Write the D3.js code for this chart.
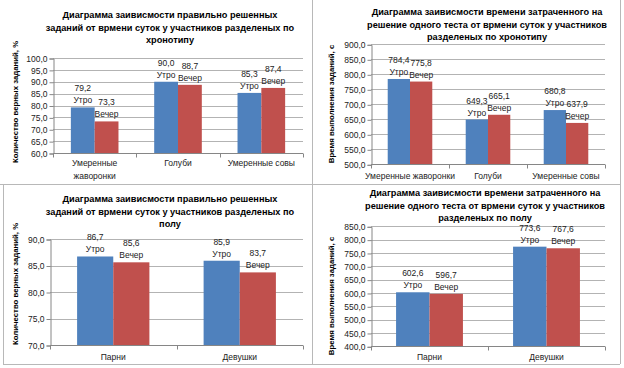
<!DOCTYPE html>
<html><head><meta charset="utf-8">
<script src="https://cdn.jsdelivr.net/npm/d3@7"></script>
<style>
html,body{margin:0;padding:0;background:#fff;}
svg{display:block;font-family:"Liberation Sans",Arial,sans-serif;}
</style></head>
<body><svg id="c" width="624" height="368"></svg>
<script>
// ---- data ----
const seriesNames = ["Утро", "Вечер"];
const chronoCategories = ["Умеренные жаворонки", "Голуби", "Умеренные совы"];
const genderCategories = ["Парни", "Девушки"];

const chronoCorrectMorning = [79.2, 90.0, 85.3];
const chronoCorrectEvening = [73.3, 88.7, 87.4];
const chronoTimeMorning = [784.4, 649.3, 680.8];
const chronoTimeEvening = [775.8, 665.1, 637.9];
const genderCorrectMorning = [86.7, 85.9];
const genderCorrectEvening = [85.6, 83.7];
const genderTimeMorning = [602.6, 773.6];
const genderTimeEvening = [596.7, 767.6];

const ticksChronoCorrect = [60, 65, 70, 75, 80, 85, 90, 95, 100];
const ticksChronoTime = [500, 550, 600, 650, 700, 750, 800, 850, 900];
const ticksGenderCorrect = [70, 75, 80, 85, 90];
const ticksGenderTime = [400, 450, 500, 550, 600, 650, 700, 750, 800, 850];

const title1 = ["Диаграмма заивисмости правильно решенных", "заданий от врмени суток у участников разделеных по", "хронотипу"];
const title2 = ["Диаграмма заивисмости времени затраченного на", "решение одного теста от врмени суток у участников", "разделеных по хронотипу"];
const title3 = ["Диаграмма заивисмости правильно решенных", "заданий от врмени суток у участников разделеных по", "полу"];
const title4 = ["Диаграмма заивисмости времени затраченного на", "решение одного теста от врмени суток у участников", "разделеных по полу"];
const yTitleCorrect = "Количество верных заданий, %";
const yTitleTime = "Время выполнения заданий, с";

// ---- drawing ----
const svg = d3.select("#c");
const colors = ["#4F81BD", "#C0504D"];
const fmt = v => d3.format(".1f")(v).replace(".", ",");

// frames
const frame = svg.append("g").attr("stroke", "#b8b8b8").attr("stroke-width", 1).attr("fill", "none");
frame.append("line").attr("x1", 0).attr("x2", 620).attr("y1", 184.5).attr("y2", 184.5);
frame.append("line").attr("x1", 312.5).attr("x2", 312.5).attr("y1", 0).attr("y2", 364);
frame.append("line").attr("x1", 620.5).attr("x2", 620.5).attr("y1", 0).attr("y2", 364);
frame.append("line").attr("x1", 3.5).attr("x2", 3.5).attr("y1", 184).attr("y2", 364);
frame.append("line").attr("x1", 3).attr("x2", 620).attr("y1", 364.5).attr("y2", 364.5);

function drawChart(o) {
  const g = svg.append("g");
  const x = d3.scaleBand().domain(o.categories).range([o.x0, o.x1]);
  const y = d3.scaleLinear().domain(d3.extent(o.ticks)).range([o.y1, o.y0]);
  const catW = x.bandwidth();
  const barW = catW / 3.5;
  const xs = d3.scaleBand().domain(seriesNames).range([0, barW * 2]);

  // gridlines
  g.append("g").selectAll("line").data(o.ticks.slice(1)).join("line")
    .attr("x1", o.x0).attr("x2", o.x1)
    .attr("y1", d => Math.round(y(d)) + 0.5).attr("y2", d => Math.round(y(d)) + 0.5)
    .attr("stroke", "#b3b3b3");

  // bars
  const series = [o.a, o.b];
  series.forEach((vals, si) => {
    g.append("g").selectAll("rect").data(vals).join("rect")
      .attr("x", (d, i) => x(o.categories[i]) + (catW - 2 * barW) / 2 + xs(seriesNames[si]))
      .attr("width", barW)
      .attr("y", d => y(d))
      .attr("height", d => y(o.ticks[0]) - y(d))
      .attr("fill", colors[si]);
  });

  // y axis
  const yAxis = d3.axisLeft(y).tickValues(o.ticks).tickSize(4).tickFormat(fmt);
  const ya = g.append("g").attr("transform", `translate(${Math.round(o.x0) + 0.5},0.5)`).call(yAxis);
  ya.select(".domain").attr("stroke", "#868686");
  ya.selectAll(".tick line").attr("stroke", "#868686");
  ya.selectAll(".tick text").attr("font-size", 8.5).attr("fill", "#222")
    .attr("font-family", "Liberation Sans, Arial, sans-serif").attr("x", -6);

  // x axis
  const xa = g.append("g").attr("transform", `translate(0,${Math.round(o.y1) + 0.5})`);
  xa.append("line").attr("x1", o.x0).attr("x2", o.x1).attr("stroke", "#868686");
  const bounds = o.categories.map(c => x(c)).concat([o.x1]);
  xa.selectAll("line.t").data(bounds).join("line").attr("class", "t")
    .attr("x1", d => Math.round(d) + 0.5).attr("x2", d => Math.round(d) + 0.5)
    .attr("y1", 0).attr("y2", 4).attr("stroke", "#868686");
  o.categories.forEach(c => {
    const lines = o.wrap && c.includes(" ") && c.length > 15 ? c.split(" ") : [c];
    lines.forEach((ln, li) => {
      g.append("text").attr("x", x(c) + catW / 2).attr("y", o.catY + li * 13)
        .attr("text-anchor", "middle").attr("dominant-baseline", "central")
        .attr("font-size", 8.5).attr("fill", "#222").text(ln);
    });
  });

  // data labels
  series.forEach((vals, si) => {
    vals.forEach((v, i) => {
      const cx = x(o.categories[i]) + (catW - 2 * barW) / 2 + xs(seriesNames[si]) + barW / 2;
      const top = y(v);
      g.append("text").attr("x", cx).attr("y", top - 19).attr("text-anchor", "middle")
        .attr("dominant-baseline", "central").attr("font-size", 8.5).attr("fill", "#222").text(fmt(v));
      g.append("text").attr("x", cx).attr("y", top - 7).attr("text-anchor", "middle")
        .attr("dominant-baseline", "central").attr("font-size", 8.5).attr("fill", "#222").text(seriesNames[si]);
    });
  });

  // title
  o.title.forEach((t, i) => {
    g.append("text").attr("x", o.tx).attr("y", o.ty + i * 12.6).attr("text-anchor", "middle")
      .attr("dominant-baseline", "central").attr("font-size", 9.2).attr("font-weight", "bold")
      .attr("fill", "#000").text(t);
  });

  // y title
  g.append("text").attr("transform", `translate(${o.ytx},${o.yty}) rotate(-90)`)
    .attr("text-anchor", "middle").attr("dominant-baseline", "central")
    .attr("font-size", 7.8).attr("font-weight", "bold").attr("fill", "#000").text(o.ytitle);
}

drawChart({categories: chronoCategories, a: chronoCorrectMorning, b: chronoCorrectEvening, ticks: ticksChronoCorrect,
  x0: 53, x1: 303, y0: 58, y1: 153, catY: 163, wrap: true, title: title1, tx: 170, ty: 15, ytitle: yTitleCorrect, ytx: 15, yty: 102});
drawChart({categories: chronoCategories, a: chronoTimeMorning, b: chronoTimeEvening, ticks: ticksChronoTime,
  x0: 371, x1: 605, y0: 44.3, y1: 164.3, catY: 176, wrap: false, title: title2, tx: 487, ty: 12, ytitle: yTitleTime, ytx: 331, yty: 104});
drawChart({categories: genderCategories, a: genderCorrectMorning, b: genderCorrectEvening, ticks: ticksGenderCorrect,
  x0: 50, x1: 303, y0: 239, y1: 345, catY: 357, wrap: false, title: title3, tx: 170, ty: 199, ytitle: yTitleCorrect, ytx: 15, yty: 284});
drawChart({categories: genderCategories, a: genderTimeMorning, b: genderTimeEvening, ticks: ticksGenderTime,
  x0: 371, x1: 605, y0: 226.3, y1: 346.3, catY: 357, wrap: false, title: title4, tx: 485, ty: 193, ytitle: yTitleTime, ytx: 331, yty: 296});
</script>
</body></html>
